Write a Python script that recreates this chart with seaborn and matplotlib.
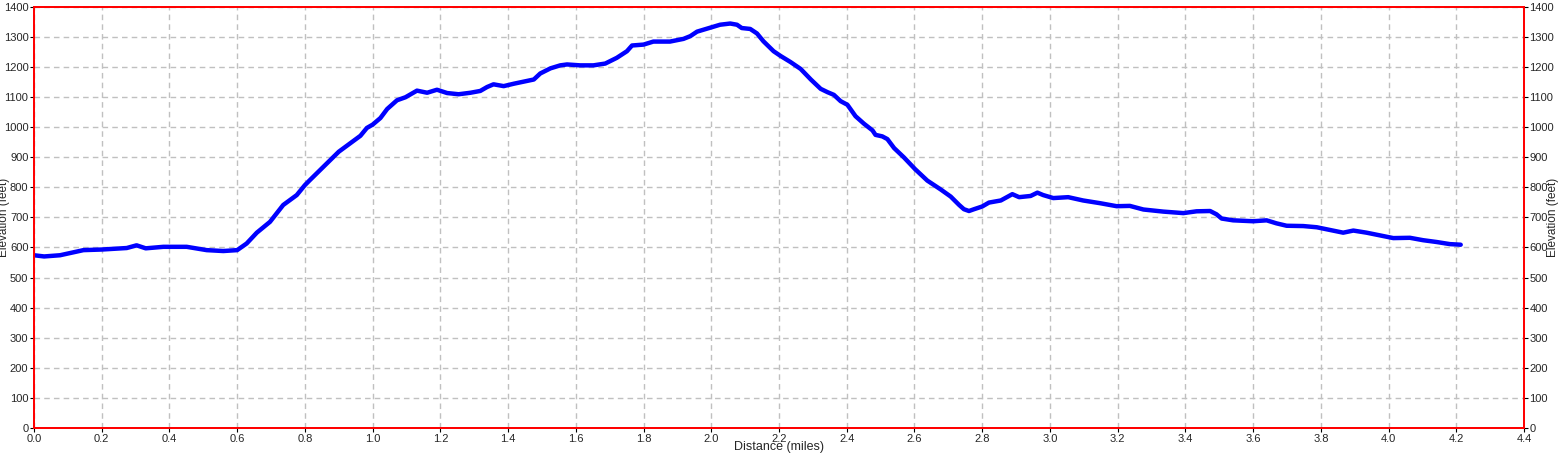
import numpy as np
import pandas as pd
import seaborn as sns
import matplotlib.pyplot as plt

# elevation profile
distance = [0.0, 0.03, 0.077, 0.146, 0.2, 0.274, 0.303, 0.33, 0.382, 0.451, 0.51, 0.559, 0.6,
            0.628, 0.658, 0.697, 0.736, 0.776, 0.8, 0.815, 0.9, 0.964, 0.983, 1.0, 1.023, 1.043,
            1.072, 1.097, 1.131, 1.161, 1.19, 1.22, 1.254, 1.289, 1.318, 1.338, 1.357, 1.387,
            1.417, 1.446, 1.476, 1.495, 1.525, 1.554, 1.574, 1.613, 1.652, 1.687, 1.721, 1.751,
            1.766, 1.8, 1.829, 1.878, 1.918, 1.938, 1.958, 1.997, 2.026, 2.056, 2.076, 2.09,
            2.115, 2.135, 2.154, 2.184, 2.205, 2.234, 2.264, 2.294, 2.323, 2.343, 2.362, 2.382,
            2.402, 2.426, 2.451, 2.476, 2.485, 2.505, 2.52, 2.54, 2.569, 2.602, 2.638, 2.677,
            2.707, 2.732, 2.746, 2.761, 2.776, 2.8, 2.82, 2.855, 2.889, 2.909, 2.943, 2.963,
            2.98, 3.01, 3.054, 3.098, 3.148, 3.197, 3.236, 3.276, 3.335, 3.394, 3.433, 3.473,
            3.492, 3.507, 3.541, 3.6, 3.64, 3.669, 3.699, 3.748, 3.788, 3.827, 3.866, 3.896,
            3.935, 3.975, 4.014, 4.063, 4.102, 4.142, 4.181, 4.213]
elevation = [574, 570, 574, 591, 593, 598, 607, 597, 602, 602, 591, 588, 591,
             613, 649, 685, 741, 774, 807, 824, 918, 971, 997, 1008, 1030, 1060,
             1089, 1099, 1121, 1114, 1124, 1113, 1109, 1114, 1120, 1133, 1142, 1136,
             1144, 1151, 1158, 1178, 1195, 1205, 1208, 1205, 1205, 1211, 1230, 1252,
             1271, 1274, 1284, 1284, 1293, 1302, 1317, 1330, 1340, 1344, 1340, 1329,
             1326, 1311, 1285, 1252, 1236, 1216, 1193, 1158, 1127, 1116, 1107, 1086,
             1074, 1036, 1011, 989, 974, 969, 960, 930, 899, 860, 822, 793,
             769, 741, 727, 721, 727, 736, 749, 756, 777, 767, 771, 782,
             774, 764, 767, 756, 747, 737, 738, 726, 719, 714, 720, 721,
             710, 696, 690, 687, 690, 680, 672, 671, 667, 658, 649, 656,
             649, 640, 631, 632, 624, 618, 611, 609]

x_ticks = np.round(np.arange(0, 4.41, 0.2), 1)
y_ticks = np.arange(0, 1401, 100)

df = pd.DataFrame({'Distance (miles)': distance, 'Elevation (feet)': elevation})

sns.set_style("white")
plt.rcParams['font.family'] = ['Liberation Sans', 'DejaVu Sans']

fig = plt.figure(figsize=(15.58, 4.54), dpi=100)
ax = fig.add_axes([0.0218, 0.0573, 0.9564, 0.928])
sns.lineplot(data=df, x='Distance (miles)', y='Elevation (feet)', color='#0000ff', lw=3.2, ax=ax)

ax.set_xlim(0, 4.4)
ax.set_ylim(0, 1400)
ax.set_xticks(x_ticks)
ax.set_xticklabels([f"{t:.1f}" for t in x_ticks])
ax.set_yticks(y_ticks)
ax.grid(True, color='#c0c0c0', linestyle=(0, (4, 3)), lw=1)
for s in ax.spines.values():
    s.set_color('#ff0000')
    s.set_linewidth(1.3)
    s.set_visible(True)
ax.tick_params(axis='both', direction='out', length=3, width=0.8, color='black',
               labelsize=8, pad=1, bottom=True, left=True)
ax.set_xlabel('Distance (miles)', fontsize=9)
ax.set_ylabel('Elevation (feet)', fontsize=8.5)
ax.xaxis.set_label_coords(0.5, -0.031)
ax.yaxis.set_label_coords(-0.0163, 0.5)

ax2 = ax.twinx()
ax2.set_ylim(0, 1400)
ax2.set_yticks(y_ticks)
ax2.tick_params(axis='y', direction='out', length=3, width=0.8, color='black',
                labelsize=8, pad=1, right=True)
ax2.set_ylabel('Elevation (feet)', fontsize=8.5, rotation=90)
ax2.yaxis.set_label_coords(1.0153, 0.5)
for s in ax2.spines.values():
    s.set_color('#ff0000')
    s.set_linewidth(1.3)

fig.savefig('out.png', dpi=100)
